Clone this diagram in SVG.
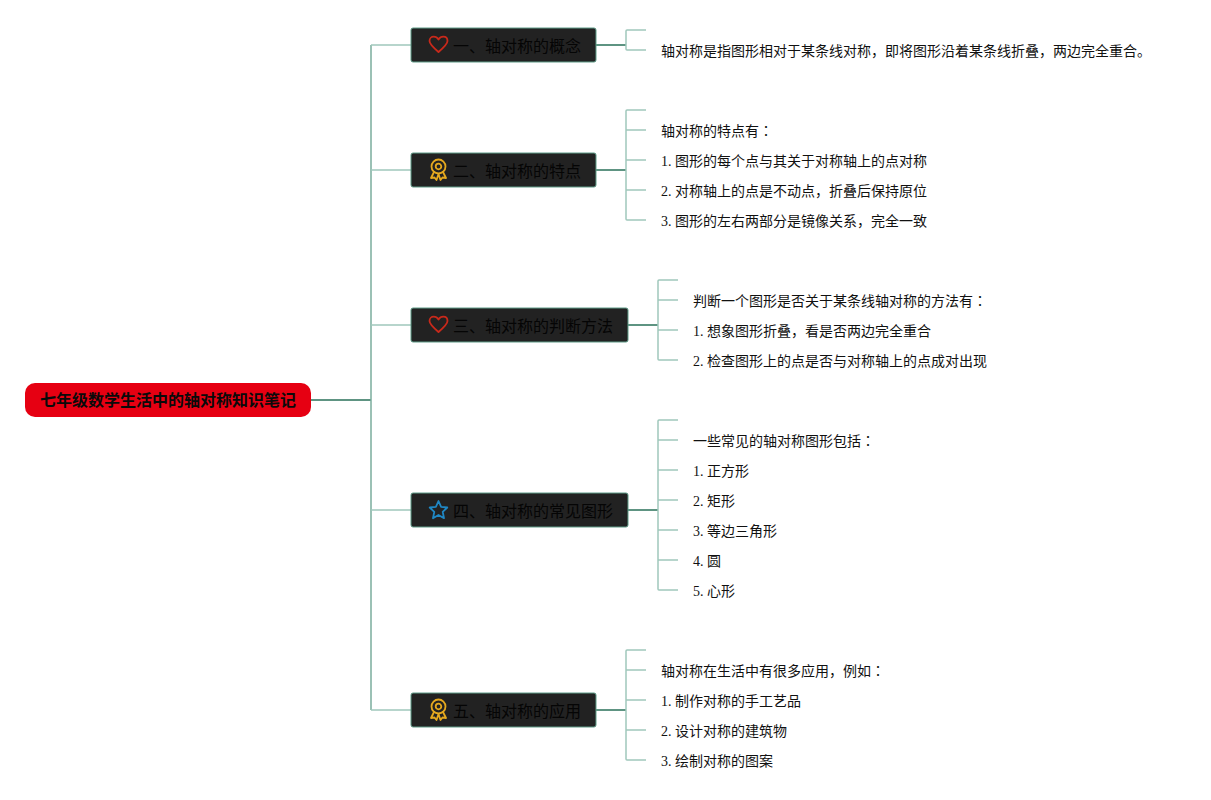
<svg xmlns="http://www.w3.org/2000/svg" width="1211" height="800" viewBox="0 0 1211 800">
<style>
text{font-family:"Liberation Serif","Noto Sans CJK SC",serif;fill:#111}
.leaf{font-size:14px}
.colon{font-family:"Noto Sans CJK JP",sans-serif}
.branch{font-size:16px;fill:#050505}
.root{font-size:16px;font-weight:bold;fill:#0a0a0a}
.box{fill:#222;stroke:#5f9c88;stroke-width:1}
.c{fill:none;stroke-width:1.5;stroke:#a0c8bc}
.m{fill:none;stroke-width:1.5;stroke:#7aac9c}
.d{fill:none;stroke-width:2;stroke:#5e9482}
.ic{fill:none;stroke-width:1.8;stroke-linejoin:round;stroke-linecap:round}
</style>
<defs>
<g id="hearticon" class="ic" stroke="#c8291b"><path d="M0 7.500C-3.500 4.500-9-.2-9-3.500C-9-6.300-7-7.800-4.800-7.800C-2.800-7.800-1-6.500 0-4.900C1-6.500 2.800-7.800 4.800-7.800C7-7.800 9-6.300 9-3.500C9-.2 3.500 4.500 0 7.500Z"/></g>
<g id="medal" class="ic" stroke="#e5a91f"><circle cx="0" cy="-3.500" r="7"/><circle cx="0" cy="-3.500" r="2.800"/><path d="M-4.500 2L-7.500 8L-4 7.500L-2 10L0 4L2 10L4 7.500L7.500 8L4.500 2"/></g>
<g id="star" class="ic" stroke="#1f87c4"><path d="M0-9L2.600-3.100L8.800-2.500L4.200 1.800L5.500 8.200L0 4.900L-5.500 8.200L-4.200 1.800L-8.800-2.500L-2.600-3.100Z"/></g>
</defs>
<g id="connectors">
<path class="d" d="M311 400H371"/>
<path class="m" d="M371 45V710"/>
<path class="c" d="M371 45H411M371 170H411M371 325H411M371 510H411M371 710H411"/>
<path class="d" d="M596 45H626M596 170H626M628 325H658M628 510H658M596 710H626"/>
<path class="c" d="M646 30H627Q626 30 626 31V49Q626 50 627 50H646"/>
<path class="c" d="M646 110H627Q626 110 626 111V219Q626 220 627 220H646M626 130H646M626 160H646M626 190H646"/>
<path class="c" d="M678 280H659Q658 280 658 281V359Q658 360 659 360H678M658 300H678M658 330H678"/>
<path class="c" d="M678 420H659Q658 420 658 421V589Q658 590 659 590H678M658 440H678M658 470H678M658 500H678M658 530H678M658 560H678"/>
<path class="c" d="M646 650H627Q626 650 626 651V759Q626 760 627 760H646M626 670H646M626 700H646M626 730H646"/>
</g>
<g id="root"><rect x="25" y="383" width="286" height="34" rx="10" fill="#e60012"/><text class="root" x="40" y="406">七年级数学生活中的轴对称知识笔记</text></g>
<g id="branch1"><rect class="box" x="411" y="28" width="185" height="34" rx="2"/><use href="#hearticon" x="438.500" y="44.500"/><text class="branch" x="453" y="52">一、轴对称的概念</text></g>
<g id="branch2"><rect class="box" x="411" y="153" width="185" height="34" rx="2"/><use href="#medal" x="438.500" y="170"/><text class="branch" x="453" y="177">二、轴对称的特点</text></g>
<g id="branch3"><rect class="box" x="411" y="308" width="217" height="34" rx="2"/><use href="#hearticon" x="438.500" y="324.500"/><text class="branch" x="453" y="332">三、轴对称的判断方法</text></g>
<g id="branch4"><rect class="box" x="411" y="493" width="217" height="34" rx="2"/><use href="#star" x="438.500" y="510"/><text class="branch" x="453" y="517">四、轴对称的常见图形</text></g>
<g id="branch5"><rect class="box" x="411" y="693" width="185" height="34" rx="2"/><use href="#medal" x="438.500" y="710"/><text class="branch" x="453" y="717">五、轴对称的应用</text></g>
<g id="leaves1"><text class="leaf" x="661" y="56">轴对称是指图形相对于某条线对称，即将图形沿着某条线折叠，两边完全重合。</text></g>
<g id="leaves2">
<text class="leaf" x="661" y="136">轴对称的特点有<tspan class="colon">：</tspan></text>
<text class="leaf" x="661" y="166">1. 图形的每个点与其关于对称轴上的点对称</text>
<text class="leaf" x="661" y="196">2. 对称轴上的点是不动点，折叠后保持原位</text>
<text class="leaf" x="661" y="226">3. 图形的左右两部分是镜像关系，完全一致</text>
</g>
<g id="leaves3">
<text class="leaf" x="693" y="306">判断一个图形是否关于某条线轴对称的方法有<tspan class="colon">：</tspan></text>
<text class="leaf" x="693" y="336">1. 想象图形折叠，看是否两边完全重合</text>
<text class="leaf" x="693" y="366">2. 检查图形上的点是否与对称轴上的点成对出现</text>
</g>
<g id="leaves4">
<text class="leaf" x="693" y="446">一些常见的轴对称图形包括<tspan class="colon">：</tspan></text>
<text class="leaf" x="693" y="476">1. 正方形</text>
<text class="leaf" x="693" y="506">2. 矩形</text>
<text class="leaf" x="693" y="536">3. 等边三角形</text>
<text class="leaf" x="693" y="566">4. 圆</text>
<text class="leaf" x="693" y="596">5. 心形</text>
</g>
<g id="leaves5">
<text class="leaf" x="661" y="676">轴对称在生活中有很多应用，例如<tspan class="colon">：</tspan></text>
<text class="leaf" x="661" y="706">1. 制作对称的手工艺品</text>
<text class="leaf" x="661" y="736">2. 设计对称的建筑物</text>
<text class="leaf" x="661" y="766">3. 绘制对称的图案</text>
</g>
</svg>
